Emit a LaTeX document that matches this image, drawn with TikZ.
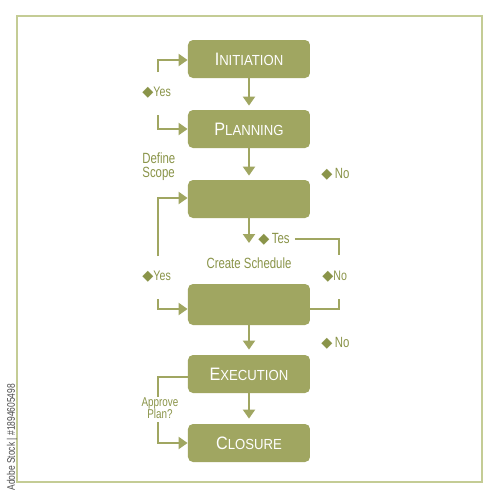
\documentclass[tikz,border=0pt]{standalone}
\usepackage{fontspec}
\setmainfont{Liberation Sans}
\newfontfamily\labfont[FakeStretch=0.77]{Liberation Sans}
\newfontfamily\boxfont[FakeStretch=0.9]{Liberation Sans}
\newfontfamily\symfont{DejaVu Sans}
\usetikzlibrary{arrows.meta}
\definecolor{olive}{HTML}{A0A661}
\definecolor{labcol}{HTML}{8A9449}
\definecolor{framecol}{HTML}{C4CC95}
\newcommand{\dmd}{{\symfont\fontsize{7.2pt}{7pt}\selectfont ◆}}
\newcommand{\bt}[2]{{\boxfont\fontsize{9pt}{9pt}\selectfont #1\fontsize{7.3pt}{7.3pt}\selectfont #2}}
\tikzset{
  stepbox/.style={fill=olive, rounded corners=2.5pt, minimum width=61pt, minimum height=19pt, inner sep=0pt, text=white},
  conn/.style={draw=olive, line width=1pt},
  arr/.style={conn, -{Triangle[length=4.5pt,width=6pt]}},
  lab/.style={text=labcol, font=\labfont\fontsize{6.9pt}{7pt}\selectfont, inner sep=0pt},
  labb/.style={lab, font=\labfont\fontsize{7.4pt}{7pt}\selectfont},
}
\begin{document}
\begin{tikzpicture}[x=0.5pt,y=-0.5pt]
\useasboundingbox (0,0) rectangle (500,500);
\fill[white] (0,0) rectangle (500,500);
\draw[framecol, line width=0.75pt] (17,16) rectangle (482,482);
\node[rotate=90, anchor=west, text=black!70, font=\labfont\fontsize{5.5pt}{6pt}\selectfont, inner sep=0pt] (wm) at (12,491) {Adobe Stock | \#1894605498};
% boxes
\node[stepbox] (init) at (249,59) {\bt{I}{NITIATION}};
\node[stepbox] (plan) at (249,129) {\bt{P}{LANNING}};
\node[stepbox] (def) at (249,199) {};
\node[stepbox, minimum height=20.5pt] (sched) at (249,304.5) {};
\node[stepbox] (exec) at (249,374) {\bt{E}{XECUTION}};
\node[stepbox] (clos) at (249,443) {\bt{C}{LOSURE}};
% main arrows
\draw[arr, shorten >=2pt] (init.south) -- (plan.north);
\draw[arr, shorten >=2pt] (plan.south) -- (def.north);
\coordinate (d1) at (249,243);
\draw[arr] (def.south) -- (d1);
\draw[arr, shorten >=2.5pt] (sched.south) -- (exec.north);
\draw[arr, shorten >=2.5pt] (exec.south) -- (clos.north);
% left loops
\coordinate (y1a) at (158,72);
\draw[arr] (y1a) |- ([yshift=-0.5pt]init.west);
\coordinate (y1b) at (158,115);
\draw[arr] (y1b) |- (plan.west);
\coordinate (y2a) at (158,256);
\draw[arr] (y2a) |- ([yshift=0.5pt]def.west);
\coordinate (y2b) at (158,299);
\draw[arr] (y2b) |- ([yshift=-2.25pt]sched.west);
\coordinate (a1) at (158,397);
\draw[conn] ([yshift=-1.5pt]exec.west) -| (a1);
\coordinate (a2) at (158,422);
\draw[arr] (a2) |- (clos.west);
% right lines
\coordinate (t1) at (295,239);
\coordinate (t2) at (339,255);
\draw[conn] (t1) -| (t2);
\coordinate (n2) at (339,299);
\draw[conn] ([yshift=-2.25pt]sched.east) -| (n2);
% labels
\node[lab, anchor=west] (yes1) at (142,93) {\dmd Yes};
\node[labb, anchor=north west, align=left] (scope) at (142,152) {Define\\Scope};
\node[labb, anchor=west] (no1) at (321,174) {\dmd\,No};
\node[labb, anchor=west] (tes) at (258,239) {\dmd\,Tes};
\node[labb] (cs) at (249,263) {Create Schedule};
\node[lab, anchor=west] (yes2) at (142,277) {\dmd Yes};
\node[lab, anchor=west] (no2) at (322,277) {\dmd No};
\node[labb, anchor=west] (no3) at (321,343) {\dmd\,No};
\node[lab, align=center, font=\labfont\fontsize{6.4pt}{6pt}\selectfont] (ap) at (160,408.5) {Approve\\Plan?};
\end{tikzpicture}
\end{document}
